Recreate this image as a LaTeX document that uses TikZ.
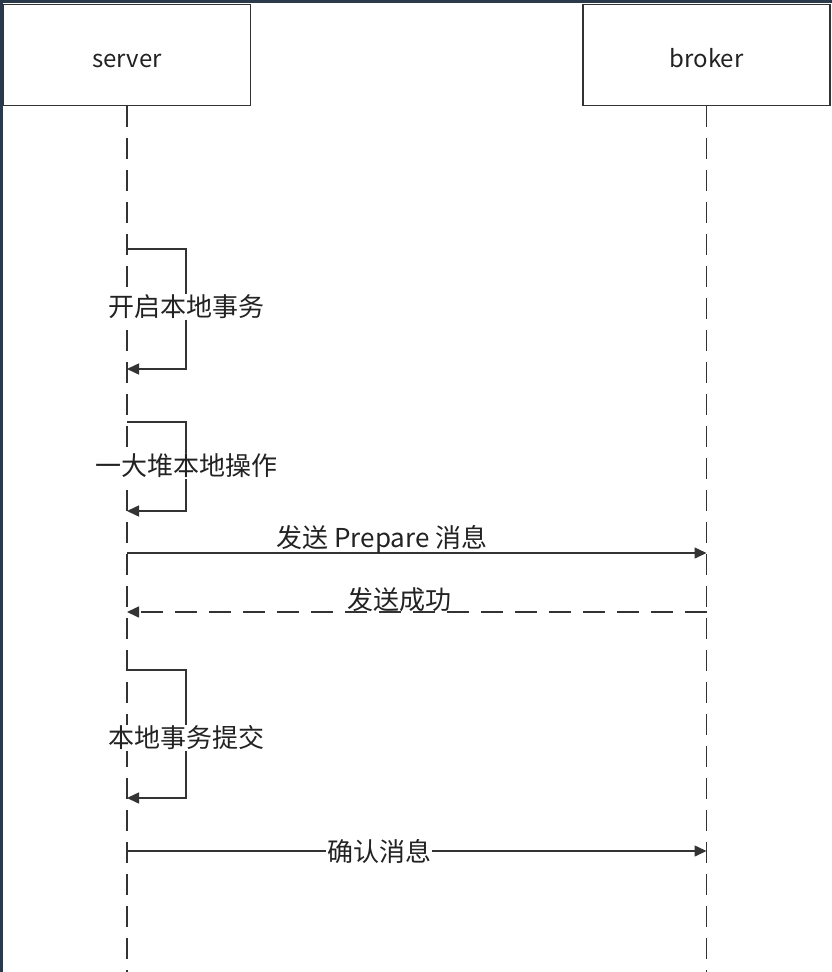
\documentclass[tikz,border=0pt]{standalone}
\usepackage{fontspec}
\setmainfont{Noto Sans CJK SC}
\usetikzlibrary{arrows.meta}
\definecolor{seqLinea}{HTML}{333333}
\definecolor{seqTexto}{HTML}{222222}
\definecolor{seqMarco}{HTML}{2B3A4A}

\begin{document}
\begin{tikzpicture}[x=1pt, y=-1pt,
    actor/.style={draw=seqLinea, line width=1.6pt, minimum width=247pt,
      minimum height=101pt, text height=24pt, text depth=0pt,
      text=seqTexto, font=\fontsize{24}{29}\selectfont},
    lifeline/.style={draw=seqLinea, line width=1.5pt, dash pattern=on 21pt off 11pt},
    msg/.style={draw=seqLinea, line width=1.5pt, -{Triangle[length=12pt,width=11pt]}},
    reply/.style={msg, dash pattern=on 22pt off 12pt},
    lbl/.style={text=seqTexto, font=\fontsize{26}{31}\selectfont, inner sep=1pt}]
      \useasboundingbox (0,0) rectangle (832,972);
      \fill[seqMarco] (0,0) rectangle (832,3);
      \fill[seqMarco] (0,0) rectangle (2.5,972);
      % actores
      \node[actor] (server) at (127,55) {server};
      \node[actor] (broker) at (706.5,55) {broker};
      \coordinate (serverFin) at (server.south |- 0,972);
      \coordinate (brokerFin) at (broker.south |- 0,972);
      \draw[lifeline] (server.south) -- (serverFin);
      \draw[lifeline] (broker.south) -- (brokerFin);
      % mensajes propios
      \coordinate (s1a) at (server.south |- 0,249);
      \coordinate (s1b) at (server.south |- 0,369);
      \coordinate (s2a) at (server.south |- 0,422);
      \coordinate (s2b) at (server.south |- 0,511);
      \coordinate (s3a) at (server.south |- 0,670);
      \coordinate (s3b) at (server.south |- 0,798);
      \draw[msg] (s1a) -- ++(59,0) |- (s1b);
      \draw[msg] (s2a) -- ++(59,0) |- (s2b);
      \draw[msg] (s3a) -- ++(59,0) |- (s3b);
      \node[lbl, fill=white] (l1) at (186,307) {开启本地事务};
      \node[lbl, fill=white] (l2) at (186,466) {一大堆本地操作};
      \node[lbl, fill=white] (l3) at (186,738) {本地事务提交};
      % mensajes entre actores
      \coordinate (m1s) at (server.south |- 0,553);
      \coordinate (m1b) at (broker.south |- 0,553);
      \coordinate (m2b) at (broker.south |- 0,612);
      \coordinate (m2s) at (server.south |- 0,612);
      \coordinate (m3s) at (server.south |- 0,851);
      \coordinate (m3b) at (broker.south |- 0,851);
      \draw[msg] (m1s) -- (m1b) node[lbl, pos=0.44, above, yshift=-2pt] (l4) {发送 Prepare 消息};
      \draw[reply] (m2b) -- (m2s) node[lbl, pos=0.53, above, yshift=-2pt] (l5) {发送成功};
      \draw[msg] (m3s) -- (m3b) node[lbl, pos=0.435, fill=white] (l6) {确认消息};
\end{tikzpicture}
\end{document}
